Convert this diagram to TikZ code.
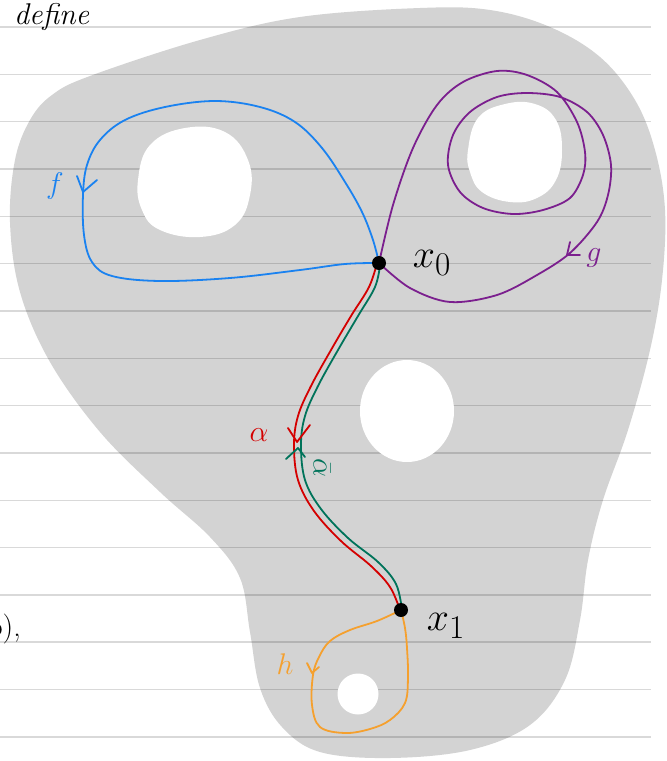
\documentclass[tikz,border=0pt]{standalone}
\usetikzlibrary{calc}
\definecolor{blobgray}{HTML}{D3D3D3}
\definecolor{fblue}{HTML}{1A82F0}
\definecolor{gpurple}{HTML}{7B1F8E}
\definecolor{hor}{HTML}{F5A02E}
\definecolor{ared}{HTML}{D40000}
\definecolor{agreen}{HTML}{00735A}
\tikzset{
  ruleline/.style={black, opacity=0.15, line width=1.6pt},
  hole/.style={fill=white, draw=none},
  pathline/.style={line width=1.8pt, line cap=round, line join=round},
  tipmark/.style={line width=1.8pt, line cap=round, line join=round},
  ptdot/.style={circle, fill=black, inner sep=0pt, minimum size=14pt},
  lbl/.style={inner sep=0pt},
  biglbl/.style={inner sep=0pt, font=\Huge, scale=1.6, transform shape},
  midlbl/.style={inner sep=0pt, font=\Huge, scale=1.2, transform shape},
}
\begin{document}
\begin{tikzpicture}[x=1pt,y=-1pt]
\useasboundingbox (0,0) rectangle (667,761);
\fill[white] (0,0) rectangle (667,761);
% region
\fill[blobgray] plot[smooth cycle, tension=0.6] coordinates {
 (90,76) (200,40) (300,17) (420,8) (490,10) (550,27) (600,57) (635,100)
 (655,150) (665,210) (662,280) (650,350) (628,430) (603,500) (588,560)
 (580,620) (565,680) (530,725) (470,750) (390,758) (320,752) (282,727)
 (260,688) (250,632) (240,578) (210,537) (160,492) (100,432) (50,362)
 (20,292) (10,222) (15,160) (30,120) (52,95)};
% ruled lines
\foreach \k in {0,...,15} {
  \draw[ruleline] (0,{27+47.33*\k}) -- (651,{27+47.33*\k});
}
% holes
\fill[hole] plot[smooth cycle, tension=0.7] coordinates {(138,180) (150,145) (185,128) (225,132) (248,160) (250,195) (235,225) (200,237) (160,230) (142,210)};
\fill[hole] plot[smooth cycle, tension=0.7] coordinates {(468,150) (478,118) (505,104) (535,104) (556,120) (562,150) (556,180) (537,198) (510,202) (482,192) (470,172)};
\fill[hole] (407,411) ellipse (47 and 51);
\fill[hole] (358,694) circle (20.5);
% points
\coordinate (x0) at (379,263);
\coordinate (x1) at (401,610);
% f loop
\draw[fblue, pathline] plot[smooth, tension=0.6] coordinates {
 (379,263) (373,240) (362,212) (345,182) (322,148) (295,122) (260,107)
 (215,101) (165,107) (125,120) (100,140) (87,165) (83,195) (84,235)
 (92,262) (112,276) (160,281) (230,278) (300,270) (345,264) (379,263)};
\draw[fblue, tipmark] (77,176) -- (83,192) -- (97,180);
% g loop
\draw[gpurple, pathline] plot[smooth, tension=0.55] coordinates {
 (379,263) (393,205) (413,148) (437,105) (463,82) (497,71) (527,75)
 (557,92) (577,122) (585,152) (583,175) (570,198) (543,210) (513,214)
 (483,208) (460,192) (448,165) (453,135) (470,112) (497,97) (527,93)
 (560,97) (587,112) (603,135) (611,165) (608,195) (597,222) (570,253)
 (537,275) (497,295) (450,302) (410,288) (379,263)};
\draw[gpurple, tipmark] (570,242) -- (567,255) -- (580,255);
% alpha and alpha bar
\draw[ared, pathline] plot[smooth, tension=0.6] coordinates {
 (377,263) (369,287) (351,316) (331,350) (311,386) (298,416) (294,445)
 (298,480) (314,511) (341,541) (371,566) (390,587) (400,610)};
\draw[agreen, pathline] plot[smooth, tension=0.6] coordinates {
 (380,265) (375,287) (358,316) (338,350) (318,386) (305,416) (301,445)
 (305,480) (321,509) (348,538) (378,562) (396,584) (402,610)};
\draw[ared, tipmark] (288,428) -- (297,442) -- (310,425);
\draw[agreen, tipmark] (286,459) -- (298,448) -- (305,457);
% h loop
\draw[hor, pathline] plot[smooth, tension=0.6] coordinates {
 (401,610) (377,621) (350,630) (330,641) (319,657) (313,675) (312,705)
 (320,727) (345,733) (370,729) (390,720) (405,703) (408,678) (407,648)
 (405,628) (401,610)};
\draw[hor, tipmark] (307,663) -- (312,673) -- (319,667);
% dots
\node[ptdot] (d0) at (x0) {};
\node[ptdot] (d1) at (x1) {};
% labels
\node[lbl, anchor=base west, font=\fontsize{30}{30}\selectfont\itshape] (define) at (14,24) {define};
\node[lbl, anchor=base east, font=\fontsize{30}{30}\selectfont] (frag) at (21,636) {o),};
\node[biglbl] (x0l) at (432,263) {$x_0$};
\node[biglbl] (x1l) at (446,626) {$x_1$};
\node[midlbl, text=fblue] (fl) at (55,186) {$f$};
\node[midlbl, text=gpurple] (gl) at (594,258) {$g$};
\node[midlbl, text=hor] (hl) at (285,664) {$h$};
\node[midlbl, text=ared] (al) at (259,435) {$\alpha$};
\node[midlbl, text=agreen, rotate=-90] (abl) at (322,468) {$\bar\alpha$};
\end{tikzpicture}
\end{document}
